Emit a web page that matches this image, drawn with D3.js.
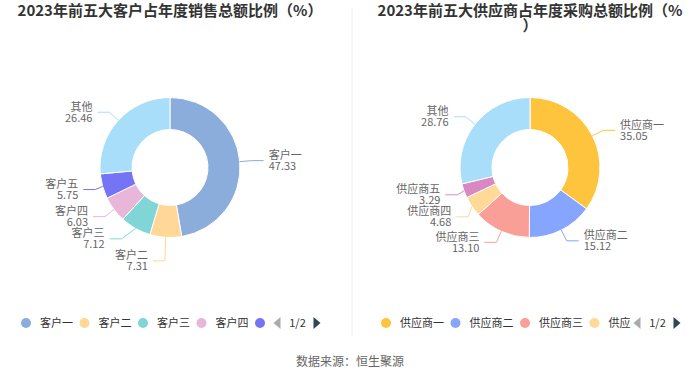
<!DOCTYPE html>
<html><head><meta charset="utf-8">
<script src="https://cdn.jsdelivr.net/npm/d3@7/dist/d3.min.js"></script>
<style>
html,body{margin:0;padding:0;background:#fff;}
svg{display:block;font-family:"Noto Sans CJK SC","Noto Sans",sans-serif;}
</style></head>
<body><svg id="chart" width="700" height="378"></svg>
<script>
// ---- data ----
const leftTitle = "2023年前五大客户占年度销售总额比例（%）";
const rightTitle = "2023年前五大供应商占年度采购总额比例（%）";
const customerNames = ["客户一","客户二","客户三","客户四","客户五","其他"];
const customerValues = [47.33, 7.31, 7.12, 6.03, 5.75, 26.46];
const customerColors = ["#8aaddb","#ffd796","#80d5d6","#e8b6d9","#7474f4","#a8defa"];
const supplierNames = ["供应商一","供应商二","供应商三","供应商四","供应商五","其他"];
const supplierValues = [35.05, 15.12, 13.10, 4.68, 3.29, 28.76];
const supplierColors = ["#ffc43d","#85a5ff","#fa9f97","#ffd996","#da88c4","#a8defa"];
const pageLabel = "1/2";
const sourceText = "数据来源：恒生聚源";

const svg = d3.select("#chart");

// divider
svg.append("line").attr("x1",352).attr("x2",352).attr("y1",8).attr("y2",336)
  .attr("stroke","#eeeeee").attr("stroke-width",1);

function drawTitle(text, cx){
  const t = svg.append("text").attr("x",cx).attr("y",16).attr("text-anchor","middle")
    .attr("font-size",15).attr("font-weight","bold").attr("fill","#333");
  const maxW = 310;
  const chars = Array.from(text);
  let lines = [], cur = "";
  const probe = t.append("tspan");
  chars.forEach(ch=>{
    probe.text(cur+ch);
    if (probe.node().getComputedTextLength() > maxW && cur.length){ lines.push(cur); cur = ch; }
    else cur += ch;
  });
  lines.push(cur);
  probe.remove();
  lines.forEach((l,i)=>{
    t.append("tspan").attr("x",cx).attr("dy", i===0?0:15).text(l);
  });
}

function layoutLabels(arcs, cx, cy, r, len, len2, dist, h){
  const items = arcs.map(a=>{
    const m = (a.startAngle+a.endAngle)/2;
    const dx = Math.sin(m), dy = -Math.cos(m);
    const x1 = cx + r*dx, y1 = cy + r*dy;
    const x2 = x1 + len*dx, y2 = y1 + len*dy;
    const dir = dx < 0 ? -1 : 1;
    const x3 = x2 + dir*len2;
    return {arc:a, dir, x:x3+dir*dist, y:y2, pts:[[x1,y1],[x2,y2],[x3,y2]]};
  });
  const rA = r + len;
  function adjustSide(list, dir){
    if (list.length < 2) return;
    list.sort((a,b)=>a.y-b.y);
    let lastPos = 0, adjusted = false;
    list.forEach(it=>{
      const top = it.y - h/2;
      const delta = top - lastPos;
      if (delta < 0){ it.y -= delta; adjusted = true; }
      lastPos = it.y + h/2;
    });
    if (!adjusted) return;
    const topSemi = {list:[], maxY:0}, botSemi = {list:[], maxY:0};
    list.forEach(it=>{
      const semi = it.y > cy ? botSemi : topSemi;
      const dy = Math.abs(it.y - cy);
      if (dy >= semi.maxY){
        const dx = it.x - cx - len2*dir;
        semi.rB = Math.abs(dx) < rA ? Math.sqrt(dy*dy/(1 - dx*dx/rA/rA)) : rA;
        semi.maxY = dy;
      }
      semi.list.push(it);
    });
    [topSemi, botSemi].forEach(semi=>{
      const rB2 = semi.rB*semi.rB;
      semi.list.forEach(it=>{
        const dy = Math.abs(it.y - cy);
        const ddx = Math.sqrt(Math.max(0,(1 - dy*dy/rB2))*rA*rA);
        it.x = cx + (ddx + len2)*dir;
      });
    });
  }
  adjustSide(items.filter(d=>d.dir<0), -1);
  adjustSide(items.filter(d=>d.dir>0), 1);
  items.forEach(it=>{
    const d = it.pts[1][0]-it.pts[2][0];
    it.pts[2][0] = it.x - it.dir*dist;
    it.pts[1][0] = it.pts[2][0] + d;
    it.pts[1][1] = it.pts[2][1] = it.y;
  });
  return items;
}

function drawDonut(names, values, colors, cx, cy){
  const data = names.map((n,i)=>({name:n, value:values[i], color:colors[i]}));
  const pie = d3.pie().sort(null).value(d=>d.value);
  const arcs = pie(data);
  const rOuter = 70, rInner = 38;
  const arc = d3.arc().innerRadius(rInner).outerRadius(rOuter);
  const g = svg.append("g");
  g.selectAll("path.slice").data(arcs).join("path").attr("class","slice")
    .attr("transform",`translate(${cx},${cy})`)
    .attr("d",arc).attr("fill",d=>d.data.color)
    .attr("stroke","#fff").attr("stroke-width",1);
  const items = layoutLabels(arcs, cx, cy, rOuter, 12, 12, 5, 22);
  const line = d3.line();
  g.selectAll("path.lbl").data(items).join("path").attr("class","lbl")
    .attr("d",d=>line(d.pts)).attr("fill","none")
    .attr("stroke",d=>d.arc.data.color).attr("stroke-width",1);
  const txt = g.selectAll("text.lbl").data(items).join("text").attr("class","lbl")
    .attr("text-anchor",d=>d.dir<0?"end":"start")
    .attr("font-size",11).attr("fill","#666");
  txt.append("tspan").attr("x",d=>d.x).attr("y",d=>d.y-1.6).text(d=>d.arc.data.name);
  txt.append("tspan").attr("x",d=>d.x).attr("y",d=>d.y+9.4).text(d=>d.arc.data.value.toFixed(2));
}

function drawLegend(names, colors, cx){
  const y = 323;
  const clipEnd = cx + 100;
  const g = svg.append("g");
  let x = cx - 144;
  for (let i = 0; i < names.length; i++){
    if (x - 5 > clipEnd) break;
    g.append("circle").attr("cx",x).attr("cy",y).attr("r",5).attr("fill",colors[i]);
    const tx = x + 14;
    if (tx >= clipEnd - 4) break;
    const t = g.append("text").attr("x",tx).attr("y",y+4).attr("font-size",11)
      .attr("fill","#333");
    t.text(names[i]);
    const w = t.node().getComputedTextLength();
    // show only the characters that fit in the visible legend area
    const chars = Array.from(names[i]);
    let shown = "";
    for (const ch of chars){
      t.text(shown+ch);
      if (tx + t.node().getComputedTextLength() > clipEnd + 2) break;
      shown += ch;
    }
    t.text(shown);
    x = x + 14 + w + 11.5;
  }
  // pager
  const ax = cx + 107, bx = cx + 147;
  svg.append("path").attr("d",`M${ax+3.5},${y-6}L${ax-3.5},${y}L${ax+3.5},${y+6}Z`).attr("fill","#aaa");
  svg.append("text").attr("x",cx+127.5).attr("y",y+4).attr("text-anchor","middle")
    .attr("font-size",11).attr("fill","#333").text(pageLabel);
  svg.append("path").attr("d",`M${bx-3.5},${y-6}L${bx+3.5},${y}L${bx-3.5},${y+6}Z`).attr("fill","#2f4554");
}

drawTitle(leftTitle, 170);
drawTitle(rightTitle, 530);
drawDonut(customerNames, customerValues, customerColors, 170, 167.5);
drawDonut(supplierNames, supplierValues, supplierColors, 530, 167.5);
drawLegend(customerNames, customerColors, 170);
drawLegend(supplierNames, supplierColors, 530);

svg.append("text").attr("x",350).attr("y",366).attr("text-anchor","middle")
  .attr("font-size",12).attr("fill","#666").text(sourceText);
</script></body></html>
